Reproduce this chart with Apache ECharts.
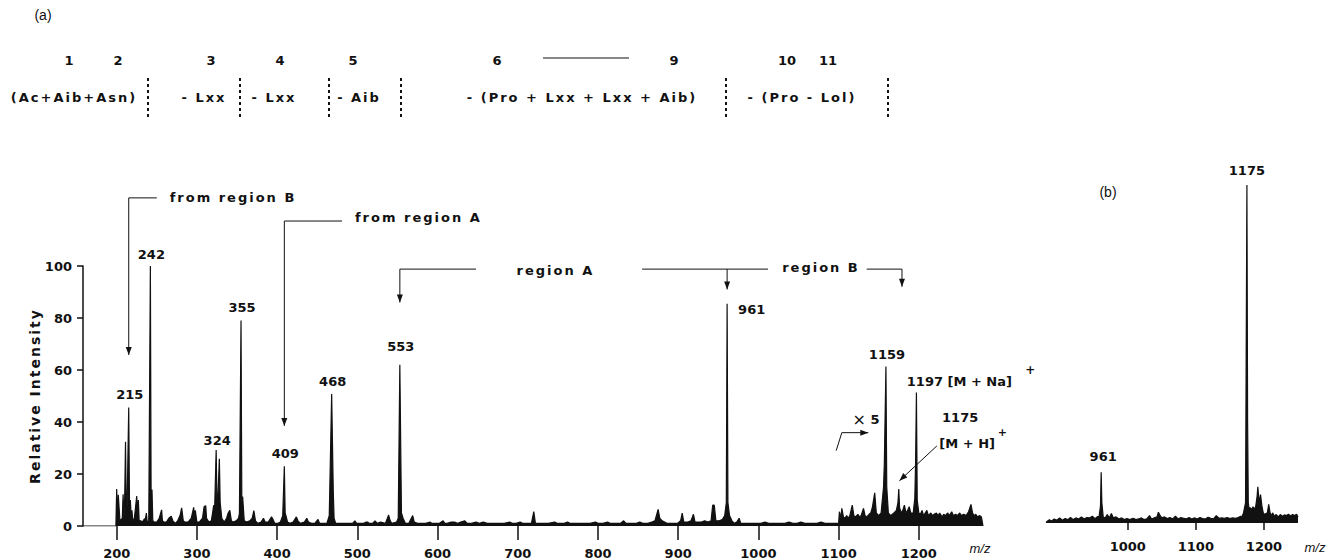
<!DOCTYPE html>
<html>
<head>
<meta charset="utf-8">
<script src="https://cdn.jsdelivr.net/npm/echarts@6/dist/echarts.min.js"></script>
<style>
  html, body { margin: 0; padding: 0; background: #fff; }
  #chart { width: 1335px; height: 560px; }
  /* words in the figure are letter-spaced; tagged with the dummy family "xsp" */
  #chart text[style*="xsp"], #chart text[font-family*="xsp"] { letter-spacing: 2px; }
</style>
</head>
<body>
<div id="chart"></div>
<script>
// ---- data: spectrum (a), [m/z, relative intensity] ----
const specA = [
  [158,0],[199,0],[200,14.2],[201,2],[202,12],[204,2],[207,3],[208,12.2],[209,3],[210,11],
  [211,32.4],[212,5],[213,8],[215,45.6],[216,7],[217,10],[218,4],[219,6],[220,2],[222,3],
  [225,11.5],[226,4],[227,10],[228,2],[230,2],[232,1.5],[234,2.5],[236,3],[237,5],[238,1.5],
  [240,2],[242,100],[243,3],[244,14],[245,2],[247,1.5],[250,1.5],[253,3],[256,6.2],[257,2],
  [259,1.5],[262,1.5],[265,3],[268,3.8],[270,2],[273,1],[276,2],[279,4],[281,7],[283,2],
  [285,1.5],[289,1.5],[293,3],[296,7.2],[297,3],[298,6],[300,1.5],[303,1.5],[307,3],[309,7.5],
  [311,7.8],[312,3],[315,1.5],[318,2],[321,8],[322,5],[324,29.2],[325,10],[326,9],[328,25.9],
  [329,9],[331,3],[334,1.5],[337,3],[339,5],[341,6],[343,2],[345,1.5],[349,2],[352,3],
  [353,5],[355,79],[356,9],[357,11.3],[359,2],[362,1.5],[366,2],[369,3],[371,5.9],[373,2],
  [376,1],[380,1.5],[383,3],[385,1.5],[389,1.5],[393,3.5],[395,2.5],[397,1],[401,1],[404,1.5],
  [407,4],[409,23],[410,5],[411,4],[413,1.5],[416,1],[420,1.5],[424,3.5],[426,2],[429,1],
  [434,1.5],[437,3],[439,1.5],[443,1],[447,1],[451,2.5],[453,1],[457,1],[462,1],[465,4],
  [468,50.8],[470,13.5],[471,3],[473,1],[477,1],[481,1],[485,1],[490,1],[494,1],[497,2],
  [499,1],[504,1],[508,1],[511,1.5],[513,1.5],[515,1],[519,1],[522,2],[525,1],[529,1.5],
  [535,1],[539,4.2],[541,2],[543,1],[549,1.5],[551,3],[553,62],[555,5],[557,3],[560,1],
  [564,1],[569,4],[571,1.5],[575,1],[580,1],[585,1],[591,1.5],[593,1],[598,1],[602,1],
  [607,2],[609,1],[612,1],[617,1.5],[621,1.5],[625,1],[629,1.5],[634,2],[637,1],[642,1],
  [648,1.5],[652,1],[657,1.5],[662,1],[667,1],[672,1],[678,1],[683,1],[690,1.5],[693,1],
  [698,1],[703,1.5],[706,1],[711,1],[717,1],[720,5.5],[722,1],[727,1],[733,1],[738,1],
  [746,1.5],[749,1],[758,1],[762,1.5],[765,1],[773,1],[779,1],[784,1],[790,1],[797,1.5],
  [800,1],[806,1],[812,1.5],[815,1],[823,1],[828,1],[832,2],[835,1],[842,1],[848,1],
  [852,1.5],[856,1],[862,1],[867,1.5],[871,2],[875,6.4],[877,3],[880,2],[883,1.5],[886,1],
  [890,1],[894,1],[899,1],[903,2],[905,5],[907,1.5],[912,1.5],[916,2],[919,4.5],[921,1.5],
  [925,1.5],[929,1.5],[933,2],[937,1.5],[941,2],[943,8],[945,8],[947,2],[951,2],[955,2.5],
  [958,4],[960,9],[961,85.5],[962,9],[964,4],[967,2],[970,1],[973,1.5],[976,3],[978,1],
  [983,1],[988,1],[993,1],[998,1],[1003,1],[1008,1.5],[1013,1],[1018,1],[1023,1],[1028,1],
  [1033,1],[1038,1.5],[1043,1],[1048,1],[1053,1.5],[1058,1],[1063,1],[1068,1],[1073,1],[1078,1.5],
  [1083,1],[1088,1],[1093,1],[1098,1],[1100,1],[1101,5.5],[1103,3],[1104,6.8],[1106,3.5],[1108,3],
  [1110,4],[1112,3],[1114,4],[1117,8],[1119,4],[1121,3.5],[1124,4.5],[1126,3.5],[1128,4],[1131,6.8],
  [1133,4],[1135,3.5],[1138,4.5],[1140,5],[1142,7],[1145,12.8],[1147,5],[1150,4],[1153,5],[1156,15],
  [1157,24],[1159,61.3],[1160,15],[1162,5],[1165,4],[1167,4.5],[1169,5],[1172,6],[1174,9],[1175,14.2],
  [1176,7],[1178,5],[1180,6],[1182,8],[1184,5],[1186,6],[1188,7.4],[1190,5],[1193,5],[1195,10.7],
  [1196,25],[1197,51.3],[1198,10],[1200,5],[1202,4.5],[1204,6],[1206,4],[1208,5],[1210,6],[1212,4],
  [1215,5],[1217,4],[1219,4.5],[1222,5],[1224,4],[1226,5],[1229,3.5],[1231,4.5],[1233,4],[1236,5],
  [1238,4],[1241,5.5],[1243,4],[1246,4.5],[1248,4],[1251,5],[1253,4],[1256,4.5],[1259,4],[1262,5.5],
  [1265,8.3],[1267,5],[1269,4],[1271,4.5],[1273,3.5],[1276,4],[1278,3.5],[1280,0]
];

// ---- data: spectrum (b) ----
const specB = [
  [880,0.2],[885,1],[888,0.5],[892,1.2],[896,0.8],[900,1.5],[904,0.8],[908,1.3],[912,1],[916,1.6],
  [920,1],[924,1.5],[928,1.2],[932,1.8],[936,1.2],[940,1.6],[944,1.5],[948,2],[952,1.3],[955,1.8],
  [958,2],[960,5],[961,15],[962,6],[964,1.8],[967,1.5],[970,2.5],[973,1.5],[976,2.8],[979,1.5],
  [983,1.8],[987,1.2],[991,1.5],[995,1],[999,1.3],[1003,1],[1008,1.4],[1012,1],[1016,1.2],[1020,1.5],
  [1024,1],[1028,1.2],[1032,2.2],[1035,1.2],[1039,1.5],[1043,1.8],[1045,3.2],[1047,2.4],[1050,1.5],[1054,1.8],
  [1058,1.3],[1062,1.6],[1066,1.2],[1070,2],[1074,1.2],[1078,1.6],[1082,1.4],[1086,1.2],[1090,1.6],[1094,1.2],
  [1098,1.5],[1102,1.2],[1106,1.6],[1110,1.3],[1114,1.2],[1118,1.7],[1122,1.4],[1126,1.2],[1130,2.2],[1134,1.4],
  [1138,1.5],[1142,1.4],[1146,1.6],[1150,1.3],[1154,1.5],[1158,1.4],[1162,1.6],[1166,2],[1168,2],[1170,3],
  [1173,6],[1175,100],[1176,30],[1177,6],[1178,4.5],[1180,4.5],[1182,4],[1184,4.8],[1186,4],[1188,5],
  [1190,8],[1191,10.7],[1193,6],[1195,8.4],[1197,5],[1199,3],[1201,2.5],[1203,2.8],[1205,3],[1207,5.5],
  [1209,3],[1211,2.2],[1213,3],[1215,2],[1218,2.5],[1221,1.8],[1224,2.5],[1227,2],[1230,2.4],[1233,2.2],
  [1236,2.6],[1239,2.1],[1242,2.5],[1245,2.2],[1248,2.6],[1250,1.8]
];

const ticksA = [200,300,400,500,600,700,800,900,1000,1100,1200];
const ticksB = [1000,1100,1200];

// labelled peaks of (a)
const peakText = ['215','242','324','355','409','468','553','1159'];
const peakMz   = [215,242,324,355,409,468,553,1159];
const peakInt  = [45.6,100,29.2,79,23,50.8,62,61.3];

const NUM  = 'DejaVu Sans';
const WORD = 'DejaVu Sans, xsp';
const INK  = '#111';

const chart = echarts.init(document.getElementById('chart'), null, { renderer: 'svg' });

const boldLabel = { color: INK, fontFamily: NUM, fontWeight: 'bold', fontSize: 13, formatter: v => String(v) };

chart.setOption({
  animation: false,
  backgroundColor: '#fff',
  grid: [
    { left: 83, top: 266, width: 900, height: 260 },
    { left: 1046, top: 185, width: 252, height: 338 }
  ],
  xAxis: [
    {
      type: 'value', gridIndex: 0, min: 158, max: 1280,
      axisLine: { show: false },
      splitLine: { show: false },
      axisTick: { show: true, customValues: ticksA, length: 14, lineStyle: { color: INK, width: 1.5 } },
      axisLabel: Object.assign({ customValues: ticksA, margin: 21 }, boldLabel)
    },
    {
      type: 'value', gridIndex: 1, min: 880, max: 1250,
      axisLine: { show: false },
      splitLine: { show: false },
      axisTick: { show: true, customValues: ticksB, length: 7, lineStyle: { color: INK, width: 1.5 } },
      axisLabel: Object.assign({ customValues: ticksB, margin: 17 }, boldLabel)
    }
  ],
  yAxis: [
    {
      type: 'value', gridIndex: 0, min: 0, max: 100, interval: 20,
      name: 'Relative Intensity', nameLocation: 'middle', nameGap: 41, nameMoveOverlap: false,
      nameTextStyle: { color: INK, fontFamily: WORD, fontWeight: 'bold', fontSize: 14 },
      axisLine: { show: true, lineStyle: { color: INK, width: 1.5 } },
      axisTick: { show: true, length: 6, lineStyle: { color: INK, width: 1.5 } },
      splitLine: { show: false },
      axisLabel: Object.assign({ margin: 11 }, boldLabel)
    },
    { type: 'value', gridIndex: 1, min: 0, max: 100, show: false, splitLine: { show: false } }
  ],
  series: [
    {
      type: 'line', xAxisIndex: 0, yAxisIndex: 0, data: specA,
      showSymbol: false, symbol: 'none',
      lineStyle: { color: INK, width: 1.2 },
      areaStyle: { color: INK, opacity: 1 }
    },
    {
      type: 'line', xAxisIndex: 1, yAxisIndex: 1, data: specB,
      showSymbol: false, symbol: 'none',
      lineStyle: { color: INK, width: 1.2 },
      areaStyle: { color: INK, opacity: 1 }
    }
  ]
});

// ---- annotations ----
const pa = (x, y) => chart.convertToPixel({ gridIndex: 0 }, [x, y]);
const pb = (x, y) => chart.convertToPixel({ gridIndex: 1 }, [x, y]);

function txt(x, y, text, o) {
  o = o || {};
  const align = o.align || 'center';
  return {
    type: 'text', x: x, y: y, silent: true,
    style: {
      text: text, fill: INK,
      fontFamily: o.family || NUM,
      fontSize: o.size || 13,
      fontWeight: o.weight || 'bold',
      fontStyle: o.style || 'normal',
      align: align, textAlign: align,
      verticalAlign: 'middle', textVerticalAlign: 'middle'
    }
  };
}
function poly(pts, w) {
  return { type: 'polyline', silent: true, shape: { points: pts },
           style: { stroke: INK, lineWidth: w || 1, fill: null } };
}
function head(from, to) {
  const dx = to[0] - from[0], dy = to[1] - from[1];
  const L = Math.hypot(dx, dy) || 1, ux = dx / L, uy = dy / L;
  const bx = to[0] - ux * 8, by = to[1] - uy * 8;
  return { type: 'polygon', silent: true,
           shape: { points: [to, [bx - uy * 3, by + ux * 3], [bx + uy * 3, by - ux * 3]] },
           style: { fill: INK } };
}
function arrow(pts) {
  return [poly(pts), head(pts[pts.length - 2], pts[pts.length - 1])];
}
function dots(x) {
  return { type: 'line', silent: true, shape: { x1: x, y1: 78, x2: x, y2: 120 },
           style: { stroke: INK, lineWidth: 2, lineDash: [3, 3] } };
}

const g = [];

// header (a)
g.push(txt(43, 15, '(a)', { weight: 'normal', family: 'Liberation Sans', size: 14 }));
[['1', 69], ['2', 118], ['3', 211], ['4', 280], ['5', 353], ['6', 497], ['9', 674], ['10', 787], ['11', 828]]
  .forEach(d => g.push(txt(d[1], 60, d[0])));
g.push({ type: 'line', silent: true, shape: { x1: 543, y1: 58, x2: 629, y2: 58 }, style: { stroke: INK, lineWidth: 1 } });
[['(Ac+Aib+Asn)', 74], ['- Lxx', 204], ['- Lxx', 274], ['- Aib', 359],
 ['- (Pro + Lxx + Lxx + Aib)', 582], ['- (Pro - Lol)', 802]]
  .forEach(d => g.push(txt(d[1], 97, d[0], { family: WORD })));
[148, 240, 329, 401, 726, 888].forEach(x => g.push(dots(x)));

// peak labels (a)
const lblDy = [-13, -12, -10, -13, -13, -12, -18, -12];
peakText.forEach((t, i) => {
  const p = pa(peakMz[i], peakInt[i]);
  g.push(txt(p[0] + 1, p[1] + lblDy[i], t));
});
const p961 = pa(961, 85.5);
g.push(txt(p961[0] + 11, p961[1] + 6, '961', { align: 'left' }));

// region arrows (a)
const A = (x, y) => pa(x, y);
g.push(...arrow([A(250, 126.2), A(215, 126.2), A(215, 65.8)]));
g.push(txt(A(266, 126.2)[0], A(266, 126.2)[1], 'from region B', { family: WORD, align: 'left' }));
g.push(...arrow([A(481, 117.3), A(409, 117.3), A(409, 38.5)]));
g.push(txt(A(497, 118.8)[0], A(497, 118.8)[1], 'from region A', { family: WORD, align: 'left' }));
g.push(...arrow([A(648, 98.8), A(553, 98.8), A(553, 86)]));
g.push(txt(A(747, 98.2)[0], A(747, 98.2)[1], 'region A', { family: WORD }));
g.push(poly([A(855, 98.8), A(1012, 98.8)]));
g.push(...arrow([A(961, 98.8), A(961, 91)]));
g.push(txt(A(1078, 99.5)[0], A(1078, 99.5)[1], 'region B', { family: WORD }));
g.push(...arrow([A(1135, 98.8), A(1179, 98.8), A(1179, 92)]));

// molecular ion annotations (a)
let q = A(1185, 55.5);
g.push(txt(q[0], q[1], '1197 [M + Na]', { align: 'left' }));
q = A(1339, 60);
g.push(txt(q[0], q[1], '+', { size: 12 }));
q = A(1251.5, 41.9);
g.push(txt(q[0], q[1], '1175'));
q = A(1225.6, 31.8);
g.push(txt(q[0], q[1], '[M + H]', { align: 'left' }));
q = A(1304, 36);
g.push(txt(q[0], q[1], '+', { size: 11 }));
g.push(...arrow([A(1222.5, 30.8), A(1175.8, 17.4)]));
g.push(poly([A(1097, 29), A(1104, 35.9), A(1137, 35.9)]));
g.push(head(A(1104, 35.9), A(1137, 35.9)));
q = A(1125.6, 40.8);
g.push(txt(q[0], q[1], '\u00d7', { weight: 'normal', size: 16 }));
q = A(1145.5, 40.8);
g.push(txt(q[0], q[1], '5'));
g.push(txt(980, 548, 'm/z', { weight: 'normal', style: 'italic', family: 'Liberation Sans' }));

// panel (b)
g.push(txt(1108, 192, '(b)', { weight: 'normal', family: 'Liberation Sans', size: 14 }));
q = pb(1175, 100);
g.push(txt(q[0], q[1] - 15, '1175'));
q = pb(961, 15);
g.push(txt(q[0] + 2, q[1] - 16, '961'));
g.push(txt(1315, 547, 'm/z', { weight: 'normal', style: 'italic', family: 'Liberation Sans' }));

chart.setOption({ graphic: { elements: g } });
</script>
</body>
</html>
